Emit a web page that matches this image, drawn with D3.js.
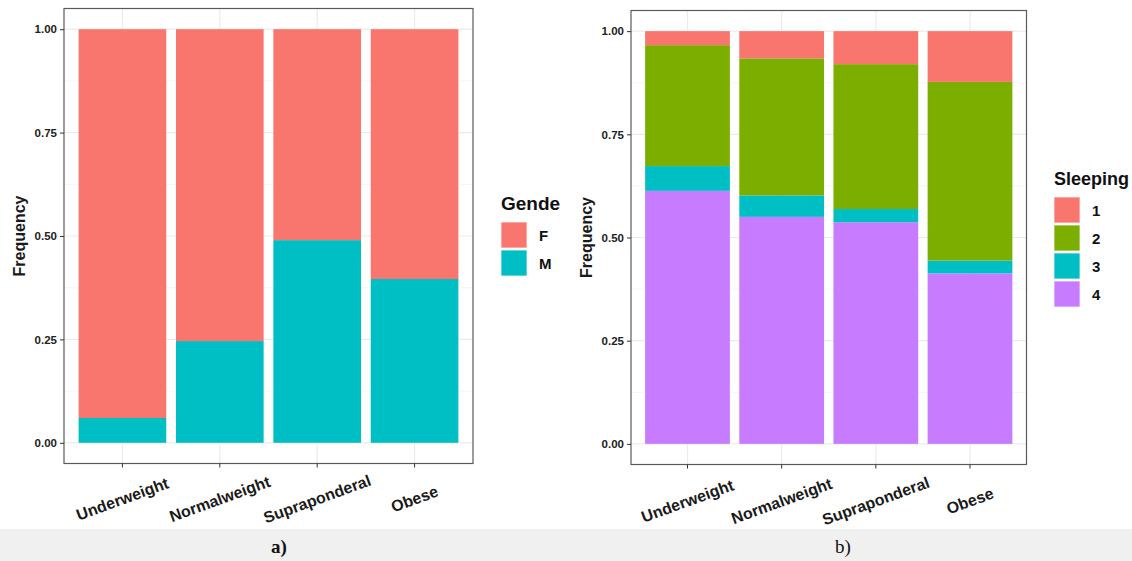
<!DOCTYPE html>
<html>
<head>
<meta charset="utf-8">
<script src="https://cdn.jsdelivr.net/npm/d3@7"></script>
<style>
  html, body { margin: 0; padding: 0; background: #ffffff; }
  svg { display: block; }
  text { font-family: "Liberation Sans", Arial, sans-serif; }
</style>
</head>
<body>
<svg id="chart" width="1132" height="561"></svg>
<script>
// BMI categories shared by both panels
const categories = ["Underweight", "Normalweight", "Supraponderal", "Obese"];

// Panel a: share of each gender within BMI category
const genderKeys = ["F", "M"];
const genderF = [0.940, 0.754, 0.510, 0.604];
const genderM = [0.060, 0.246, 0.490, 0.396];
const genderColors = ["#F8766D", "#00BFC4"];

// Panel b: share of each sleeping level within BMI category
const sleepKeys = ["1", "2", "3", "4"];
const sleep1 = [0.034, 0.066, 0.080, 0.123];
const sleep2 = [0.293, 0.332, 0.351, 0.433];
const sleep3 = [0.060, 0.052, 0.032, 0.031];
const sleep4 = [0.613, 0.550, 0.537, 0.413];
const sleepColors = ["#F8766D", "#7CAE00", "#00BFC4", "#C77CFF"];

const yTicks = [0, 0.25, 0.5, 0.75, 1];
const yTickLabels = ["0.00", "0.25", "0.50", "0.75", "1.00"];
const yMinor = [0.125, 0.375, 0.625, 0.875];

const svg = d3.select("#chart");

function drawPanel(opt) {
  const { x0, x1, y0, y1, keys, series, colors, legendTitle, legend } = opt;

  const rows = categories.map((c, i) => {
    const r = { category: c };
    keys.forEach((k, j) => { r[k] = series[j][i]; });
    return r;
  });

  const x = d3.scaleBand().domain(categories).range([x0, x1])
    .paddingInner(0.1).paddingOuter(0.15);
  const y = d3.scaleLinear().domain([-0.05, 1.05]).range([y1, y0]);
  const color = d3.scaleOrdinal().domain(keys).range(colors);

  const g = svg.append("g");

  // panel background and grid
  g.append("rect").attr("x", x0).attr("y", y0)
    .attr("width", x1 - x0).attr("height", y1 - y0).attr("fill", "#ffffff");

  g.selectAll("line.minor").data(yMinor).join("line")
    .attr("x1", x0).attr("x2", x1)
    .attr("y1", d => y(d)).attr("y2", d => y(d))
    .attr("stroke", "#f2f2f2").attr("stroke-width", 0.8);
  g.selectAll("line.major").data(yTicks).join("line")
    .attr("x1", x0).attr("x2", x1)
    .attr("y1", d => y(d)).attr("y2", d => y(d))
    .attr("stroke", "#ebebeb").attr("stroke-width", 1.2);
  g.selectAll("line.vmajor").data(categories).join("line")
    .attr("y1", y0).attr("y2", y1)
    .attr("x1", d => x(d) + x.bandwidth() / 2).attr("x2", d => x(d) + x.bandwidth() / 2)
    .attr("stroke", "#ebebeb").attr("stroke-width", 1.2);

  // stacked bars: the last key sits at the bottom
  const stack = d3.stack().keys(keys.slice().reverse());
  const layers = stack(rows);
  g.selectAll("g.layer").data(layers).join("g")
    .attr("fill", d => color(d.key))
    .selectAll("rect").data(d => d).join("rect")
    .attr("x", d => x(d.data.category))
    .attr("width", x.bandwidth())
    .attr("y", d => y(d[1]))
    .attr("height", d => y(d[0]) - y(d[1]));

  // panel border
  g.append("rect").attr("x", x0).attr("y", y0)
    .attr("width", x1 - x0).attr("height", y1 - y0)
    .attr("fill", "none").attr("stroke", "#5a5a5a").attr("stroke-width", 1.2);

  // y axis
  const yAxis = d3.axisLeft(y).tickValues(yTicks)
    .tickFormat((d, i) => yTickLabels[i]).tickSize(4).tickPadding(3);
  const ya = g.append("g").attr("transform", `translate(${x0},0)`).call(yAxis);
  ya.select(".domain").remove();
  ya.selectAll(".tick line").attr("stroke", "#333333");
  ya.selectAll(".tick text").attr("fill", "#222222")
    .style("font-size", "11.5px").style("font-weight", "bold")
    .style("font-family", "'Liberation Sans', Arial, sans-serif");

  // x axis
  const xAxis = d3.axisBottom(x).tickSize(4).tickFormat("");
  const xa = g.append("g").attr("transform", `translate(0,${y1})`).call(xAxis);
  xa.select(".domain").remove();
  xa.selectAll(".tick line").attr("stroke", "#333333");

  g.selectAll("text.xlab").data(categories).join("text")
    .attr("class", "xlab")
    .attr("transform", d => `translate(${x(d) + x.bandwidth() / 2},${opt.xLabelY}) rotate(-20)`)
    .attr("text-anchor", "middle").attr("dominant-baseline", "central")
    .attr("fill", "#1a1a1a").style("font-size", "16px").style("font-weight", "bold")
    .text(d => d);

  // y title
  g.append("text")
    .attr("transform", `translate(${opt.yTitleX},${(y(0) + y(1)) / 2}) rotate(-90)`)
    .attr("text-anchor", "middle").attr("dominant-baseline", "central")
    .attr("fill", "#1a1a1a").style("font-size", "16px").style("font-weight", "bold")
    .text("Frequency");

  // legend
  const lg = g.append("g");
  lg.append("text").attr("x", legend.x).attr("y", legend.titleY)
    .attr("fill", "#111111").style("font-size", legend.titleSize).style("font-weight", "bold")
    .text(legendTitle);
  keys.forEach((k, i) => {
    const ky = legend.keyY + i * 28;
    lg.append("rect").attr("x", legend.x).attr("y", ky)
      .attr("width", 26).attr("height", 26)
      .attr("fill", color(k)).attr("stroke", "#f4f4f4").attr("stroke-width", 0.8);
    lg.append("text").attr("x", legend.x + 38).attr("y", ky + 13)
      .attr("dominant-baseline", "central")
      .attr("fill", "#111111").style("font-size", "15px").style("font-weight", "bold")
      .text(k);
  });
}

drawPanel({
  x0: 64, x1: 473, y0: 8.5, y1: 463.5,
  keys: genderKeys, series: [genderF, genderM], colors: genderColors,
  legendTitle: "Gende",
  legend: { x: 501, titleY: 210, keyY: 222, titleSize: "19px" },
  xLabelY: 499, yTitleX: 19
});

drawPanel({
  x0: 631, x1: 1026.5, y0: 10.5, y1: 464.5,
  keys: sleepKeys, series: [sleep1, sleep2, sleep3, sleep4], colors: sleepColors,
  legendTitle: "Sleeping",
  legend: { x: 1054, titleY: 185, keyY: 197, titleSize: "18px" },
  xLabelY: 501, yTitleX: 586
});

// caption strip
svg.append("rect").attr("x", 0).attr("y", 529).attr("width", 1132).attr("height", 32)
  .attr("fill", "#f0f0f0");
svg.append("text").attr("x", 279).attr("y", 553).attr("text-anchor", "middle")
  .style("font-family", "'Liberation Serif', 'Times New Roman', serif")
  .style("font-size", "19px").style("font-weight", "bold").attr("fill", "#111111")
  .text("a)");
svg.append("text").attr("x", 843).attr("y", 553).attr("text-anchor", "middle")
  .style("font-family", "'Liberation Serif', 'Times New Roman', serif")
  .style("font-size", "19px").attr("fill", "#111111")
  .text("b)");
</script>
</body>
</html>
